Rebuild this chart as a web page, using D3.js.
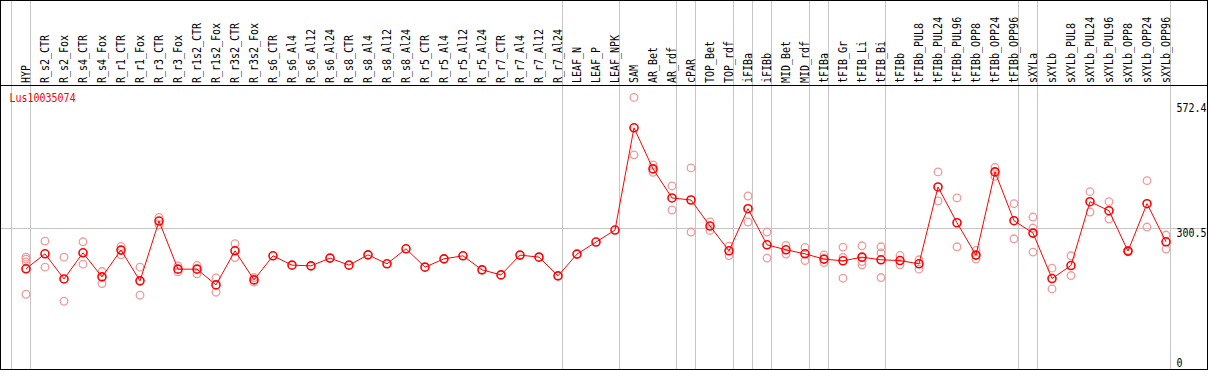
<!DOCTYPE html>
<html><head><meta charset="utf-8">
<script src="https://cdn.jsdelivr.net/npm/d3@7"></script>
<style>body{margin:0;background:#fff}svg{display:block}</style>
</head><body><svg id="c" width="1209" height="370"></svg>
<script>
const geneName = "Lus10035074";
const categories = ["HYP","R_s2_CTR","R_s2_Fox","R_s4_CTR","R_s4_Fox","R_r1_CTR","R_r1_Fox","R_r3_CTR","R_r3_Fox","R_r1s2_CTR","R_r1s2_Fox","R_r3s2_CTR","R_r3s2_Fox","R_s6_CTR","R_s6_Al4","R_s6_Al12","R_s6_Al24","R_s8_CTR","R_s8_Al4","R_s8_Al12","R_s8_Al24","R_r5_CTR","R_r5_Al4","R_r5_Al12","R_r5_Al24","R_r7_CTR","R_r7_Al4","R_r7_Al12","R_r7_Al24","LEAF_N","LEAF_P","LEAF_NPK","SAM","AR_Bet","AR_rdf","cPAR","TOP_Bet","TOP_rdf","iFIBa","iFIBb","MID_Bet","MID_rdf","tFIBa","tFIB_Gr","tFIB_Li","tFIB_Bi","tFIBb","tFIBb_PUL8","tFIBb_PUL24","tFIBb_PUL96","tFIBb_OPP8","tFIBb_OPP24","tFIBb_OPP96","sXYLa","sXYLb","sXYLb_PUL8","sXYLb_PUL24","sXYLb_PUL96","sXYLb_OPP8","sXYLb_OPP24","sXYLb_OPP96"];
const meanValues = [212,244.5,190,246.7,194.5,252.6,185.8,315.6,211.2,211.2,177.1,251,187.9,240.2,219.9,218.4,235.2,219.9,242.3,222.8,255.4,215.6,233.6,240.2,209.7,198.8,241.7,237.3,196.7,243.9,270,296.1,517.9,428.8,365.7,361.3,304.8,251,342.4,264.1,253.2,244.5,233,229.3,237.3,231.5,229.9,222.8,389.6,311.9,241.7,422.2,316.3,289.5,190.8,219.1,357.6,338,250.4,353.3,270.6];
const replicateValues = [
 [237.3,233,227.1,156.8],[272.1,215.6],[237.3,141.6],[270.6,222.1],[206,179.9],[260.4,242.3],[215.6,154.7],[323.5,307.6],[218.4,205.3],[219.1,201],[192.3,161.2],[266.3,236.5],[193,183],
 [],[],[],[],[],[],[],[],[],[],[],[],[],[],[],[],[],[],[],
 [583.9,459.2],[437.5,421.4],[391.8,339.6],[430.9,291.7],[313.5,295.2],[261.3,240.8],[370,313.5],[291.7,235.2],[262.6,243.9],[258.2,229.9],[242.3,225.6],[259.1,236.5,191.6],[261.9,227.8,220.6],[259.7,246.5,193],[240.8,220.6],
 [231.5,211.2],[422.2,359.1],[365.7,259.7],[251.7,233],[432.2,412.7],[353.3,277.1],[324.3,300.4,248.2],[213.4,168.4],[240.2,197.3],[379.4,335.2],[357.6,320],[252,249],[403.3,302.6],[285.2,254.7]
];
const groupStarts = ["HYP","R_s2_CTR","LEAF_N","SAM","cPAR","TOP_Bet","iFIBa","iFIBb","MID_Bet","tFIBa","tFIB_Gr","tFIBb","sXYLa","sXYLb"];
const yTicks = [572.4, 300.5, 0];
const yTickLabels = ["572.4","300.5","0"];

const svg = d3.select("#c");
const W = 1209, H = 370;
const FONT = "'DejaVu Sans Mono', 'Liberation Mono', monospace";
const x = d3.scaleBand().domain(categories).range([11, 1170]).paddingInner(0).paddingOuter(0);
const y = d3.scaleLinear().domain([0, 572.4]).range([366.5, 102.7]);
const px = c => x(c) + 15;
const grid = "#c6c6c6";

svg.append("rect").attr("width", W).attr("height", H).attr("fill", "#fff");

// vertical group lines
const vl = groupStarts.map(g => x(g)).concat([x.range()[1]]);
svg.selectAll("line.v").data(vl).join("line")
  .attr("x1", d => Math.round(d) + 0.5).attr("x2", d => Math.round(d) + 0.5)
  .attr("y1", 0).attr("y2", 369).attr("stroke", grid).attr("stroke-width", 1);

// horizontal grid at middle tick
svg.append("line").attr("x1", 1).attr("x2", 1207)
  .attr("y1", Math.round(y(300.5)) + 0.5).attr("y2", Math.round(y(300.5)) + 0.5)
  .attr("stroke", grid);

// text helper: 10px mono (6px advance) stretched to a taller glyph
function monoText(parent, s, tx, ty, rot, fill) {
  return parent.append("text")
    .attr("transform", `translate(${tx},${ty})${rot ? " rotate(-90)" : ""} scale(1,1.24)`)
    .attr("font-family", FONT).attr("font-size", 10).attr("fill", fill).text(s);
}
categories.forEach(c => monoText(svg, c, x(c) + 19, 83, true, "#000"));

// borders
svg.append("line").attr("x1", 0).attr("x2", 1208).attr("y1", 85.5).attr("y2", 85.5).attr("stroke", "#000");
svg.append("line").attr("x1", 0).attr("x2", 1208).attr("y1", 0.5).attr("y2", 0.5).attr("stroke", "#000");
svg.append("line").attr("x1", 0).attr("x2", 1208).attr("y1", 369.5).attr("y2", 369.5).attr("stroke", "#000");
svg.append("line").attr("x1", 0.5).attr("x2", 0.5).attr("y1", 0).attr("y2", 370).attr("stroke", "#000");
svg.append("line").attr("x1", 1207.5).attr("x2", 1207.5).attr("y1", 0).attr("y2", 370).attr("stroke", "#000");

// gene name
monoText(svg, geneName, 9.5, 101.5, false, "#ff0000");

// y tick labels
yTicks.forEach((v, i) => {
  const top = v === 0 ? 357.7 : y(v);
  monoText(svg, yTickLabels[i], 1176.5, top + 9, false, "#000");
});

// replicates
const reps = [];
replicateValues.forEach((arr, i) => arr.forEach(v => reps.push({c: categories[i], v})));
svg.selectAll("circle.rep").data(reps).join("circle")
  .attr("cx", d => px(d.c)).attr("cy", d => y(d.v)).attr("r", 3.8)
  .attr("fill", "none").attr("stroke", "#f09a9a").attr("stroke-width", 1.3);

// line
const pts = categories.map((c, i) => ({c, v: meanValues[i]}));
svg.append("path").datum(pts)
  .attr("d", d3.line().x(d => px(d.c)).y(d => y(d.v)))
  .attr("fill", "none").attr("stroke", "#ff0000").attr("stroke-width", 1);

svg.selectAll("circle.mean").data(pts).join("circle")
  .attr("cx", d => px(d.c)).attr("cy", d => y(d.v)).attr("r", 4)
  .attr("fill", "none").attr("stroke", "#ff0000").attr("stroke-width", 1.6);
</script></body></html>
